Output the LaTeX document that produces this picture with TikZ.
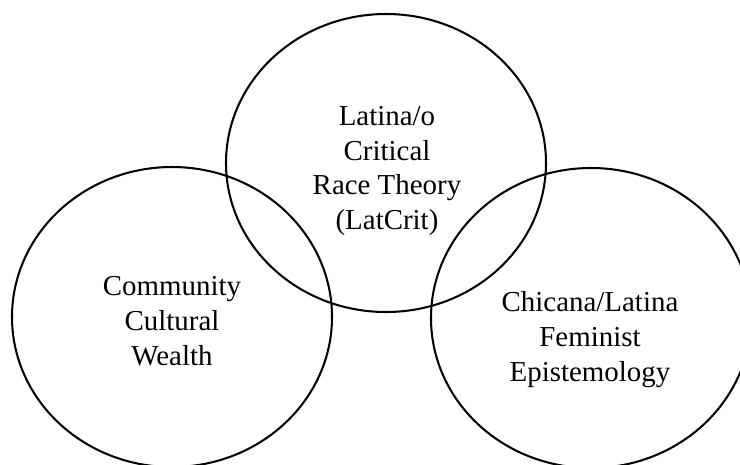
\documentclass[tikz,border=0pt]{standalone}
\usepackage{fontspec}
\setmainfont{Liberation Serif}
\usetikzlibrary{positioning}
\tikzset{
    ring/.style={
        line width=0.85pt,
        black
    },
    % text inside each circle
    lens/.style={
        align=center,
        inner sep=0pt,
        font=\fontsize{12}{14.5}\selectfont
    }
}

\begin{document}
\begin{tikzpicture}[x=0.415pt, y=-0.415pt]
    \useasboundingbox (0,0) rectangle (740,464);
    \clip (0,0) rectangle (740,464);

    \coordinate (ccw) at (172,317);
    \coordinate (lat) at (386,163);
    \coordinate (cfe) at (591,318);

    \draw[ring] (ccw) ellipse [x radius=160, y radius=150];
    \draw[ring] (lat) ellipse [x radius=160, y radius=149];
    \draw[ring] (cfe) ellipse [x radius=160, y radius=150];

    \node[lens] (wealth) at (172,321) {Community\\Cultural\\Wealth};
    \node[lens] (latcrit) at (387,171) {Latina/o\\Critical\\Race Theory\\(LatCrit)};
    \node[lens] (episte) at (590,340) {Chicana/Latina\\Feminist\\Epistemology};
\end{tikzpicture}
\end{document}
